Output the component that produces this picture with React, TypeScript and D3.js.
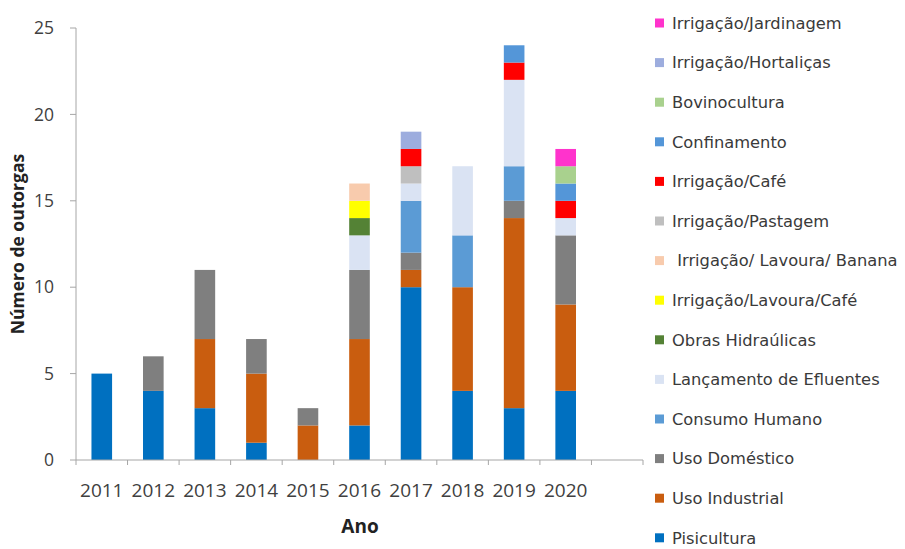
import React from "react";
import * as d3 from "d3";

const years = ["2011", "2012", "2013", "2014", "2015", "2016", "2017", "2018", "2019", "2020"];
const slots = [...years, ""];

const seriesNames = [
  "Pisicultura",
  "Uso Industrial",
  "Uso Doméstico",
  "Consumo Humano",
  "Lançamento de Efluentes",
  "Obras Hidraúlicas",
  "Irrigação/Lavoura/Café",
  " Irrigação/ Lavoura/ Banana",
  "Irrigação/Pastagem",
  "Irrigação/Café",
  "Confinamento",
  "Bovinocultura",
  "Irrigação/Hortaliças",
  "Irrigação/Jardinagem",
];

const seriesColors = [
  "#0070c0",
  "#c95d0f",
  "#7f7f7f",
  "#5b9bd5",
  "#dae3f3",
  "#548235",
  "#ffff00",
  "#f8cbad",
  "#bfbfbf",
  "#ff0000",
  "#5496d8",
  "#a9d18e",
  "#9dadde",
  "#ff33cc",
];

const pisicultura = [5, 4, 3, 1, 0, 2, 10, 4, 3, 4];
const usoIndustrial = [0, 0, 4, 4, 2, 5, 1, 6, 11, 5];
const usoDomestico = [0, 2, 4, 2, 1, 4, 1, 0, 1, 4];
const consumoHumano = [0, 0, 0, 0, 0, 0, 3, 3, 2, 0];
const lancamento = [0, 0, 0, 0, 0, 2, 1, 4, 5, 1];
const obras = [0, 0, 0, 0, 0, 1, 0, 0, 0, 0];
const lavouraCafe = [0, 0, 0, 0, 0, 1, 0, 0, 0, 0];
const lavouraBanana = [0, 0, 0, 0, 0, 1, 0, 0, 0, 0];
const pastagem = [0, 0, 0, 0, 0, 0, 1, 0, 0, 0];
const irrCafe = [0, 0, 0, 0, 0, 0, 1, 0, 1, 1];
const confinamento = [0, 0, 0, 0, 0, 0, 0, 0, 1, 1];
const bovinocultura = [0, 0, 0, 0, 0, 0, 0, 0, 0, 1];
const hortalicas = [0, 0, 0, 0, 0, 0, 1, 0, 0, 0];
const jardinagem = [0, 0, 0, 0, 0, 0, 0, 0, 0, 1];

const seriesValues = [
  pisicultura, usoIndustrial, usoDomestico, consumoHumano, lancamento, obras,
  lavouraCafe, lavouraBanana, pastagem, irrCafe, confinamento, bovinocultura,
  hortalicas, jardinagem,
];

const yTicks = [0, 5, 10, 15, 20, 25];

const FONT = "'Open Sans', 'DejaVu Sans', sans-serif";
const LEGEND_FONT = "'DejaVu Sans', sans-serif";

export default function App() {
  const W = 905, H = 549;
  const x0 = 76, x1 = 643, yTop = 28, yBot = 460;

  const x = d3.scaleBand<string>().domain(slots.map((_, i) => String(i))).range([x0, x1]).paddingInner(0.6).paddingOuter(0.3);
  const y = d3.scaleLinear().domain([0, 25]).range([yBot, yTop]);

  const rows = years.map((yr, i) => {
    const r: Record<string, number | string> = { year: yr, idx: String(i) };
    seriesNames.forEach((n, k) => (r[n] = seriesValues[k][i]));
    return r;
  });
  const stack = d3.stack<Record<string, number | string>>().keys(seriesNames).value((d, k) => d[k] as number);
  const layers = stack(rows);

  const boundaries = d3.range(slots.length + 1).map((i) => x0 + i * ((x1 - x0) / slots.length));

  const legendX = 655, legendY0 = 23, legendStep = 39.6;
  const axisColor = "#a6a6a6";
  const textColor = "#404040";

  return (
    <svg width={W} height={H} style={{ position: "absolute", left: 0, top: 0, background: "#fff" }} fontFamily={FONT}>
      {/* bars */}
      {layers.map((layer, k) => (
        <g key={k} fill={seriesColors[k]}>
          {layer.map((d, i) =>
            d[1] - d[0] > 0 ? (
              <rect key={i} x={x(String(i))} width={x.bandwidth()} y={y(d[1])} height={y(d[0]) - y(d[1])} />
            ) : null
          )}
        </g>
      ))}

      {/* y axis */}
      <line x1={x0} x2={x0} y1={yTop} y2={yBot} stroke={axisColor} strokeWidth={1} />
      {yTicks.map((t) => (
        <g key={t}>
          <line x1={x0 - 6} x2={x0} y1={y(t)} y2={y(t)} stroke={axisColor} />
          <text x={54} y={y(t)} dy="0.35em" textAnchor="end" fontSize={17.5} fill={textColor}>
            {t}
          </text>
        </g>
      ))}

      {/* x axis */}
      <line x1={x0} x2={x1} y1={yBot} y2={yBot} stroke={axisColor} strokeWidth={1} />
      {boundaries.map((bx, i) => (
        <line key={i} x1={bx} x2={bx} y1={yBot} y2={yBot + 5} stroke={axisColor} />
      ))}
      {years.map((yr, i) => (
        <text key={yr} x={(x(String(i)) ?? 0) + x.bandwidth() / 2} y={490} dy="0.35em" textAnchor="middle" fontSize={19} fill={textColor}>
          {yr}
        </text>
      ))}

      {/* axis titles */}
      <text x={360} y={526} dy="0.35em" textAnchor="middle" fontSize={19} fontWeight="bold" fill="#222">
        Ano
      </text>
      <text transform={`translate(18, ${(yTop + yBot) / 2}) rotate(-90)`} dy="0.35em" textAnchor="middle" fontSize={17.5} fontWeight="bold" fill="#222">
        Número de outorgas
      </text>

      {/* legend */}
      {seriesNames
        .map((n, k) => ({ n, k }))
        .reverse()
        .map(({ n, k }, j) => {
          const cy = legendY0 + j * legendStep;
          return (
            <g key={n}>
              <rect x={legendX} y={cy - 4.5} width={9} height={9} fill={seriesColors[k]} />
              <text x={legendX + 17} y={cy} dy="0.35em" fontSize={16.3} fill="#3a3a3a" fontFamily={LEGEND_FONT} style={{ whiteSpace: "pre" }}>
                {n}
              </text>
            </g>
          );
        })}
    </svg>
  );
}
